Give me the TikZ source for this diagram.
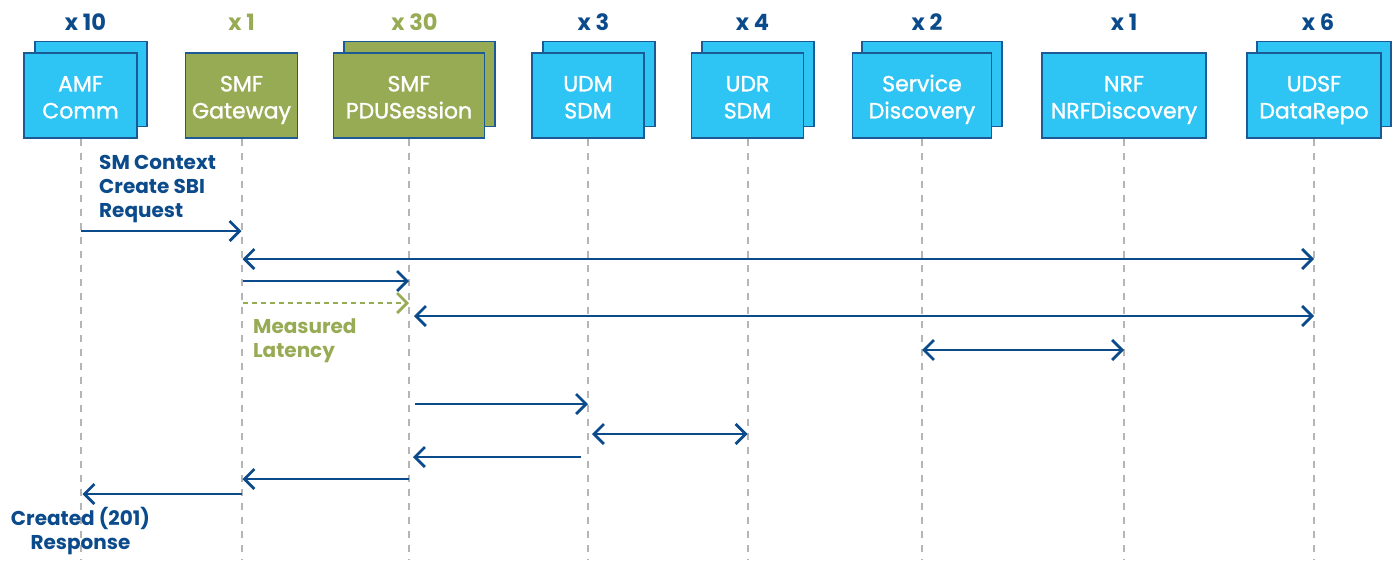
\documentclass[tikz,border=0pt]{standalone}
\usepackage{fontspec}
\setmainfont{Poppins}
\newfontfamily\boxfont{Poppins}[FakeBold=1.3]
\usetikzlibrary{arrows.meta}
\definecolor{boxblue}{HTML}{2EC4F3}
\definecolor{edgeblue}{HTML}{1B5A94}
\definecolor{dkblue}{HTML}{0B4A8B}
\definecolor{olive}{HTML}{97AB54}
\definecolor{lgray}{HTML}{B5B5B5}
\tikzset{
  nf/.style={draw=edgeblue, line width=1.5pt, fill=boxblue, inner sep=0pt,
    minimum height=85pt},
  gf/.style={nf, fill=olive},
  bt/.style={text=white, align=center, inner sep=0pt,
    font=\boxfont\fontsize{22}{27}\selectfont},
  cnt/.style={font=\fontsize{22.5}{24}\selectfont\bfseries, text=dkblue},
  gcnt/.style={cnt, text=olive},
  life/.style={draw=lgray, line width=2pt, dash pattern=on 7pt off 7pt},
  msg/.style={draw=dkblue, line width=2.7pt},
  tipe/.style={-{Straight Barb[length=10pt,width=20pt,line width=2.7pt]}},
  tipb/.style={{Straight Barb[length=10pt,width=20pt,line width=2.7pt]}-{Straight Barb[length=10pt,width=20pt,line width=2.7pt]}},
  lab/.style={font=\fontsize{20}{24}\selectfont\bfseries, text=dkblue, align=left, inner sep=0pt},
}
\begin{document}
\begin{tikzpicture}[x=1pt,y=-1pt]
\useasboundingbox (0,0) rectangle (1398,560);
\coordinate (bot) at (0,560);
% back boxes
\node[nf, minimum width=112pt] (amfb) at (91,84) {};
\node[gf, minimum width=151pt] (pdub) at (419.5,84) {};
\node[nf, minimum width=112pt] (udmb) at (599,84) {};
\node[nf, minimum width=112pt] (udrb) at (758,84) {};
\node[nf, minimum width=140pt] (sdb) at (932,84) {};
\node[nf, minimum width=134pt] (udsfb) at (1324,84) {};
% front boxes
\node[nf, minimum width=113pt] (amf) at (80.5,95.5) {};
\node[gf, minimum width=112pt] (gw) at (241.5,95.5) {};
\node[gf, minimum width=151pt] (pdu) at (409,95.5) {};
\node[nf, minimum width=112pt] (udm) at (588,95.5) {};
\node[nf, minimum width=112pt] (udr) at (747.5,95.5) {};
\node[nf, minimum width=139pt] (sd) at (922,95.5) {};
\node[nf, minimum width=164pt] (nrf) at (1124,95.5) {};
\node[nf, minimum width=134pt] (udsf) at (1314,95.5) {};
% box texts
\node[bt] (amft) at (80.5,99.5) {\strut AMF\\\strut Comm};
\node[bt] (gwt) at (241.5,99.5) {\strut SMF\\\strut Gateway};
\node[bt] (pdut) at (409,99.5) {\strut SMF\\\strut PDUSession};
\node[bt] (udmt) at (588,99.5) {\strut UDM\\\strut SDM};
\node[bt] (udrt) at (747.5,99.5) {\strut UDR\\\strut SDM};
\node[bt] (sdt) at (922,99.5) {\strut Service\\\strut Discovery};
\node[bt] (nrft) at (1124,99.5) {\strut NRF\\\strut NRFDiscovery};
\node[bt] (udsft) at (1314,99.5) {\strut UDSF\\\strut DataRepo};
% counts
\node[cnt] (c1) at (85.5,22) {x 10};
\node[gcnt] (c2) at (241.5,22) {x 1};
\node[gcnt] (c3) at (414.5,22) {x 30};
\node[cnt] (c4) at (593.5,22) {x 3};
\node[cnt] (c5) at (752.5,22) {x 4};
\node[cnt] (c6) at (927,22) {x 2};
\node[cnt] (c7) at (1124,22) {x 1};
\node[cnt] (c8) at (1318,22) {x 6};
% lifelines
\foreach \n in {amf,gw,pdu,udm,udr,sd,nrf,udsf}
  \draw[life] (\n.south) -- (\n.south |- bot);
% rows
\coordinate (r1) at (0,231);
\coordinate (r2) at (0,259);
\coordinate (r3) at (0,281);
\coordinate (r4) at (0,303);
\coordinate (r5) at (0,316);
\coordinate (r6) at (0,350);
\coordinate (r7) at (0,404);
\coordinate (r8) at (0,434);
\coordinate (r9) at (0,457);
\coordinate (r10) at (0,479);
\coordinate (r11) at (0,494);
% messages
\draw[msg, tipe] (amf |- r1) -- (gw |- r1);
\draw[msg, tipb] ([xshift=1pt]gw |- r2) -- (udsf |- r2);
\draw[msg, tipe] ([xshift=1pt]gw |- r3) -- (pdu |- r3);
\draw[draw=olive, line width=2.7pt, dash pattern=on 5pt off 4pt, -{Straight Barb[length=10pt,width=20pt,line width=2.7pt]}] ([xshift=1pt]gw |- r4) -- (pdu |- r4);
\draw[msg, tipb] ([xshift=5pt]pdu |- r5) -- (udsf |- r5);
\draw[msg, tipb] (sd |- r6) -- (nrf |- r6);
\draw[msg, tipe] ([xshift=6pt]pdu |- r7) -- (udm |- r7);
\draw[msg, tipb] ([xshift=4pt]udm |- r8) -- (udr |- r8);
\draw[msg, tipe] ([xshift=-7pt]udm |- r9) -- ([xshift=4pt]pdu |- r9);
\draw[msg, tipe] (pdu |- r10) -- ([xshift=1pt]gw |- r10);
\draw[msg, tipe] (gw |- r11) -- ([xshift=2pt]amf |- r11);
% labels
\node[lab, anchor=west] (l1) at (99,189) {SM Context\\Create SBI\\Request};
\node[lab, anchor=west, text=olive] (l2) at (253,341) {Measured\\Latency};
\node[lab, align=center] (l3) at (80.5,531) {Created (201)\\Response};
\end{tikzpicture}
\end{document}
